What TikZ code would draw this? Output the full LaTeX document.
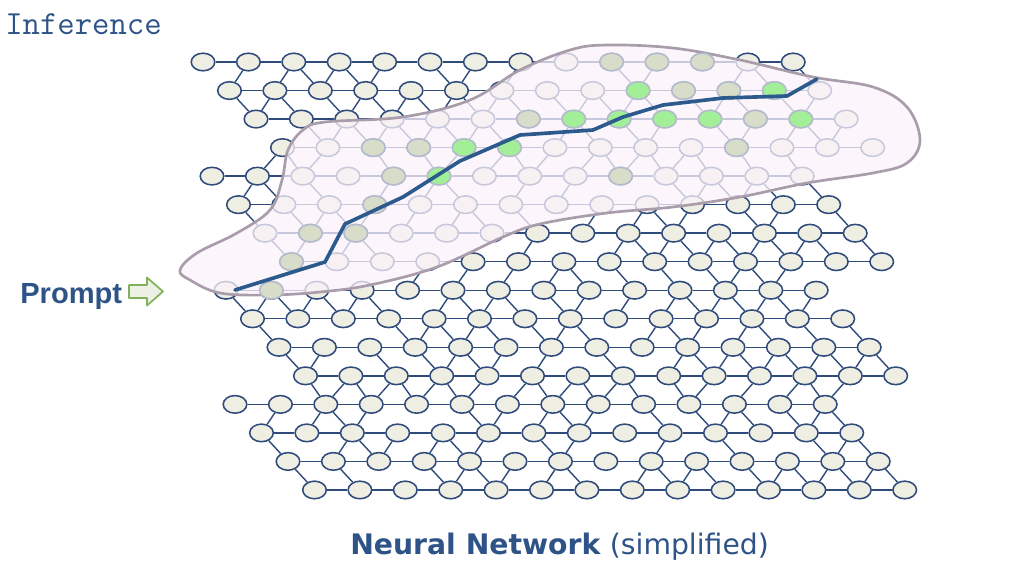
\documentclass[tikz,border=0pt]{standalone}
\usepackage{fontspec}
\newfontfamily\promptfont{Liberation Sans}
\newfontfamily\captionfont{DejaVu Sans}
\usetikzlibrary{shapes.geometric,positioning}
\definecolor{navy}{HTML}{2F4B7C}
\definecolor{inkblue}{HTML}{2E5387}
\definecolor{shell}{HTML}{EFEEE3}
\definecolor{haze}{HTML}{FBF3FB}
\definecolor{rim}{HTML}{A99DAB}
\definecolor{paleedge}{HTML}{B3BACD}
\definecolor{hotfill}{HTML}{A2EF98}
\definecolor{warmfill}{HTML}{D7DDC9}
\definecolor{leaf}{HTML}{7DB356}
\definecolor{leaffill}{HTML}{EEF0E6}
\definecolor{trace}{HTML}{2C5A8C}
\begin{document}
\begin{tikzpicture}[x=0.025cm,y=-0.025cm,
  neuron/.style={ellipse, draw=navy, fill=shell, line width=1.1pt, minimum width=0.59cm, minimum height=0.44cm, inner sep=0pt},
  link/.style={navy, line width=1pt},
  hot/.style={neuron, draw=paleedge, fill=hotfill},
  warm/.style={neuron, draw=paleedge, fill=warmfill}]
\useasboundingbox (0,0) rectangle (1024,574);
\pgfmathsetseed{11}
\foreach \r in {0,...,15}{
  \pgfmathtruncatemacro\blk{\r/4}
  \pgfmathsetmacro\sx{{203,212,226,235}[\blk]+26.5*mod(\r,4)}
  \foreach \j in {0,...,13}
    \node[neuron] (n-\r-\j) at (\sx+45.4*\j, 62+28.53*\r) {};
}
\foreach \r in {0,...,15}{
  \foreach \j in {0,...,12}{
    \pgfmathtruncatemacro\jn{\j+1}
    \draw[link] (n-\r-\j) -- (n-\r-\jn);
  }
}
\foreach \r in {0,...,14}{
  \pgfmathtruncatemacro\nxt{\r+1}
  \pgfmathtruncatemacro\off{mod(\r,4)==3 ? 1 : -1}
  \foreach \j in {0,...,13}{
    \pgfmathtruncatemacro\jl{\j+\off}
    \pgfmathtruncatemacro\jr{\j+\off+1}
    \pgfmathtruncatemacro\hasl{rnd<0.6 && \jl>=0 && \jl<=13}
    \pgfmathtruncatemacro\hasr{rnd<0.6 && \jr<=13}
    \ifnum\hasl=1 \draw[link] (n-\r-\j) -- (n-\nxt-\jl);\fi
    \ifnum\hasr=1 \draw[link] (n-\r-\j) -- (n-\nxt-\jr);\fi
  }
}
\draw[rim, line width=1.9pt, fill=haze, fill opacity=0.75] plot[smooth cycle, tension=0.6] coordinates {
  (180,270) (197,253) (237,233) (270,210) (282,180) (288,150) (303,130) (325,122)
  (403,117) (470,100) (520,70) (570,50) (607,45) (673,48) (740,60) (813,77)
  (873,87) (907,107) (920,140) (907,163) (873,173) (807,183) (740,197) (673,207)
  (607,213) (540,224) (503,237) (437,267) (370,285) (320,292) (270,295) (220,293) (190,280)};
\foreach \r/\j in {0/9,0/10,0/11,1/10,1/11,2/6,2/11,3/2,3/3,3/10,4/4,4/9,5/3,6/1,6/2,7/0,8/1}
  \node[warm] (w-\r-\j) at (n-\r-\j) {};
\foreach \r/\j in {1/9,1/12,2/7,2/8,2/9,2/10,2/12,3/4,3/5,4/5}
  \node[hot] (h-\r-\j) at (n-\r-\j) {};
\draw[trace, line width=2.6pt, line join=round, line cap=round] (235,290) -- (325,262) -- (345,224)
  -- (403,197) -- (460,161) -- (520,135) -- (593,130) -- (623,117) -- (663,105) -- (723,98) -- (787,96) -- (817,79);
\node[anchor=base west, inkblue, font=\ttfamily\fontsize{24}{28}\selectfont, inner sep=0pt] (title) at (5,34) {Inference};
\node[anchor=base west, inkblue, font=\promptfont\bfseries\fontsize{20.7}{24}\selectfont, inner sep=0pt] (prompt) at (20,303) {Prompt};
\coordinate (cue) at (129,291.5);
\draw[leaf, fill=leaffill, line width=1.2pt, line join=round] (cue) ++(0,-6.5) -- ++(18,0) -- ++(0,-7.5)
  -- ++(16,14) -- ++(-16,14) -- ++(0,-7.5) -- ++(-18,0) -- cycle;
\node[anchor=base west, inkblue, font=\captionfont\fontsize{20.1}{24}\selectfont, inner sep=0pt] (caption) at (350,554) {\textbf{Neural Network} (simplified)};
\end{tikzpicture}
\end{document}
